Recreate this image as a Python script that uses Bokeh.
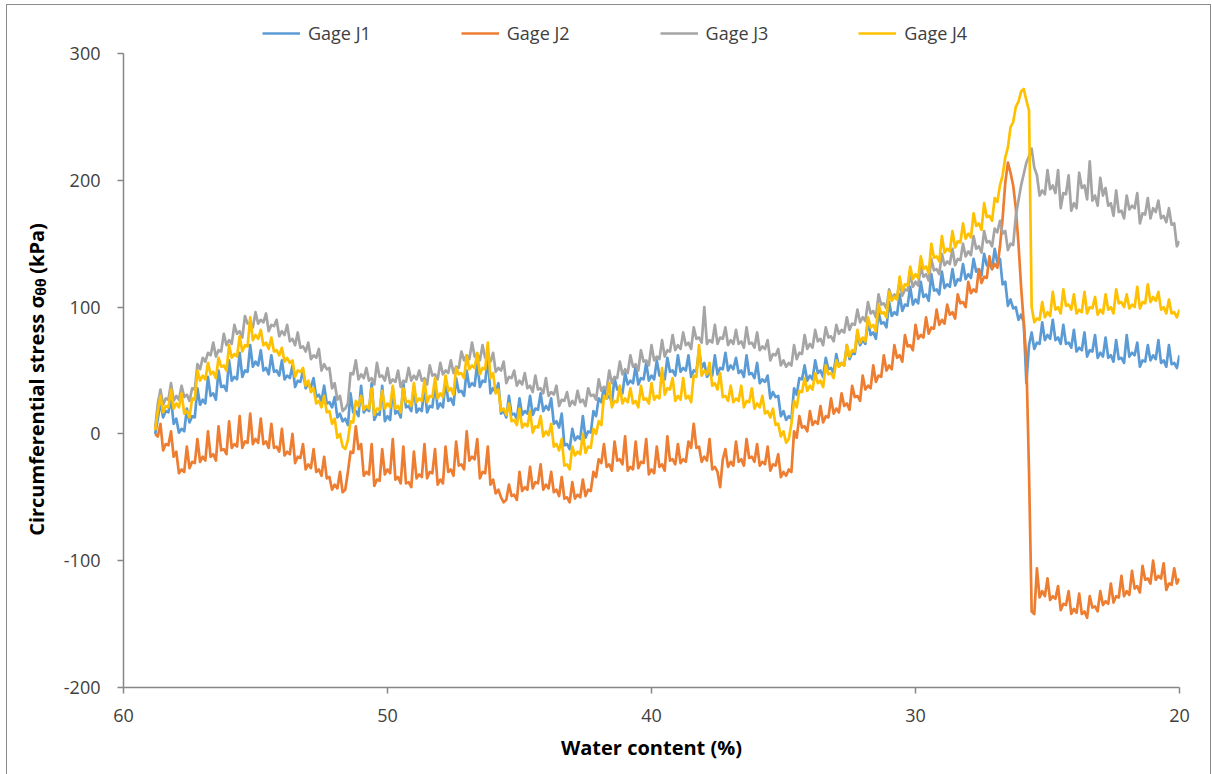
import math
from bokeh.plotting import figure
from bokeh.layouts import row
from bokeh.models import Range1d, Legend, LegendItem, Label, FixedTicker
from bokeh.embed import file_html
from bokeh.resources import INLINE

# ---------------- data ----------------
# samples every 0.2 % of water content ...
water = [
    58.8, 58.6, 58.4, 58.2, 58.0, 57.8, 57.6, 57.4, 57.2, 57.0,
    56.8, 56.6, 56.4, 56.2, 56.0, 55.8, 55.6, 55.4, 55.2, 55.0,
    54.8, 54.6, 54.4, 54.2, 54.0, 53.8, 53.6, 53.4, 53.2, 53.0,
    52.8, 52.6, 52.4, 52.2, 52.0, 51.8, 51.6, 51.4, 51.2, 51.0,
    50.8, 50.6, 50.4, 50.2, 50.0, 49.8, 49.6, 49.4, 49.2, 49.0,
    48.8, 48.6, 48.4, 48.2, 48.0, 47.8, 47.6, 47.4, 47.2, 47.0,
    46.8, 46.6, 46.4, 46.2, 46.0, 45.8, 45.6, 45.4, 45.2, 45.0,
    44.8, 44.6, 44.4, 44.2, 44.0, 43.8, 43.6, 43.4, 43.2, 43.0,
    42.8, 42.6, 42.4, 42.2, 42.0, 41.8, 41.6, 41.4, 41.2, 41.0,
    40.8, 40.6, 40.4, 40.2, 40.0, 39.8, 39.6, 39.4, 39.2, 39.0,
    38.8, 38.6, 38.4, 38.2, 38.0, 37.8, 37.6, 37.4, 37.2, 37.0,
    36.8, 36.6, 36.4, 36.2, 36.0, 35.8, 35.6, 35.4, 35.2, 35.0,
    34.8, 34.6, 34.4, 34.2, 34.0, 33.8, 33.6, 33.4, 33.2, 33.0,
    32.8, 32.6, 32.4, 32.2, 32.0, 31.8, 31.6, 31.4, 31.2, 31.0,
    30.8, 30.6, 30.4, 30.2, 30.0, 29.8, 29.6, 29.4, 29.2, 29.0,
    28.8, 28.6, 28.4, 28.2, 28.0, 27.8, 27.6, 27.4, 27.2, 27.0,
    26.8, 26.6, 26.4, 26.2, 26.0, 25.8, 25.6, 25.4, 25.2, 25.0,
    24.8, 24.6, 24.4, 24.2, 24.0, 23.8, 23.6, 23.4, 23.2, 23.0,
    22.8, 22.6, 22.4, 22.2, 22.0, 21.8, 21.6, 21.4, 21.2, 21.0,
    20.8, 20.6, 20.4, 20.2, 20.0,
]
# ... and the in-between samples (noise troughs)
water_mid = [
    58.7, 58.5, 58.3, 58.1, 57.9, 57.7, 57.5, 57.3, 57.1, 56.9,
    56.7, 56.5, 56.3, 56.1, 55.9, 55.7, 55.5, 55.3, 55.1, 54.9,
    54.7, 54.5, 54.3, 54.1, 53.9, 53.7, 53.5, 53.3, 53.1, 52.9,
    52.7, 52.5, 52.3, 52.1, 51.9, 51.7, 51.5, 51.3, 51.1, 50.9,
    50.7, 50.5, 50.3, 50.1, 49.9, 49.7, 49.5, 49.3, 49.1, 48.9,
    48.7, 48.5, 48.3, 48.1, 47.9, 47.7, 47.5, 47.3, 47.1, 46.9,
    46.7, 46.5, 46.3, 46.1, 45.9, 45.7, 45.5, 45.3, 45.1, 44.9,
    44.7, 44.5, 44.3, 44.1, 43.9, 43.7, 43.5, 43.3, 43.1, 42.9,
    42.7, 42.5, 42.3, 42.1, 41.9, 41.7, 41.5, 41.3, 41.1, 40.9,
    40.7, 40.5, 40.3, 40.1, 39.9, 39.7, 39.5, 39.3, 39.1, 38.9,
    38.7, 38.5, 38.3, 38.1, 37.9, 37.7, 37.5, 37.3, 37.1, 36.9,
    36.7, 36.5, 36.3, 36.1, 35.9, 35.7, 35.5, 35.3, 35.1, 34.9,
    34.7, 34.5, 34.3, 34.1, 33.9, 33.7, 33.5, 33.3, 33.1, 32.9,
    32.7, 32.5, 32.3, 32.1, 31.9, 31.7, 31.5, 31.3, 31.1, 30.9,
    30.7, 30.5, 30.3, 30.1, 29.9, 29.7, 29.5, 29.3, 29.1, 28.9,
    28.7, 28.5, 28.3, 28.1, 27.9, 27.7, 27.5, 27.3, 27.1, 26.9,
    26.7, 26.5, 26.3, 26.1, 25.9, 25.7, 25.5, 25.3, 25.1, 24.9,
    24.7, 24.5, 24.3, 24.1, 23.9, 23.7, 23.5, 23.3, 23.1, 22.9,
    22.7, 22.5, 22.3, 22.1, 21.9, 21.7, 21.5, 21.3, 21.1, 20.9,
    20.7, 20.5, 20.3, 20.1,
]

gage_j1 = [
    0, 26, 18, 28, 12, 4, 20, 14, 36, 27,
    45, 32, 50, 38, 58, 45, 64, 50, 70, 57,
    66, 52, 62, 50, 58, 46, 54, 42, 50, 40,
    44, 31, 38, 25, 29, 16, 12, 32, 18, 38,
    20, 40, 16, 38, 14, 36, 18, 40, 22, 38,
    20, 38, 22, 40, 24, 42, 28, 44, 34, 50,
    40, 56, 42, 60, 36, 40, 18, 30, 16, 28,
    18, 30, 20, 32, 22, 28, 10, 16, -8, 4,
    -2, 14, 2, 18, 28, 37, 30, 44, 36, 48,
    42, 54, 44, 56, 46, 58, 48, 60, 50, 62,
    52, 62, 50, 66, 56, 48, 62, 52, 64, 54,
    60, 50, 62, 48, 56, 43, 46, 33, 30, 18,
    14, 36, 44, 54, 46, 58, 50, 60, 52, 63,
    56, 70, 64, 80, 74, 90, 80, 96, 88, 104,
    96, 110, 102, 116, 106, 120, 110, 126, 114, 128,
    118, 130, 122, 134, 126, 138, 130, 142, 134, 146,
    138, 120, 106, 100, 94, 40, 80, 72, 88, 78,
    90, 76, 86, 72, 82, 68, 80, 66, 78, 64,
    76, 62, 74, 60, 78, 64, 72, 58, 70, 62,
    74, 58, 70, 56, 62,
]
gage_j1_mid = [
    12, 13, 17, 8, 1, 2, 9, 13, 23, 24,
    30, 27, 37, 34, 42, 43, 45, 49, 53, 54,
    50, 47, 49, 46, 43, 44, 37, 41, 36, 37,
    29, 26, 24, 21, 13, 10, 7, 17, 14, 17,
    18, 11, 15, 10, 11, 16, 13, 21, 18, 17,
    18, 17, 21, 20, 21, 26, 23, 33, 30, 37,
    38, 37, 41, 32, 33, 16, 13, 15, 12, 15,
    16, 15, 19, 18, 19, 8, 5, -9, -12, -5,
    -4, -3, 1, 14, 25, 28, 25, 35, 32, 39,
    40, 39, 43, 42, 43, 46, 43, 49, 46, 49,
    50, 45, 49, 52, 45, 46, 47, 51, 50, 51,
    48, 45, 47, 44, 40, 41, 28, 29, 14, 11,
    12, 31, 43, 42, 43, 48, 45, 51, 48, 53,
    54, 59, 63, 70, 71, 78, 75, 87, 84, 93,
    94, 97, 101, 102, 103, 108, 105, 113, 110, 115,
    116, 117, 121, 122, 123, 128, 125, 133, 130, 135,
    118, 101, 99, 90, 88, 70, 67, 71, 74, 75,
    74, 71, 71, 68, 65, 66, 61, 65, 60, 61,
    60, 57, 59, 56, 61, 62, 53, 57, 58, 59,
    56, 53, 55, 52,
]

gage_j2 = [
    0, 8, -8, 2, -14, -28, -10, -22, -4, -18,
    2, -16, 6, -12, 10, -8, 14, -6, 16, -4,
    12, -6, 8, -10, 4, -14, 0, -18, -8, -24,
    -12, -28, -18, -34, -40, -30, -44, -14, 6, -8,
    -30, -8, -36, -12, -28, -4, -34, -10, -38, -14,
    -32, -8, -30, -12, -36, -10, -28, -6, -24, 2,
    -18, -4, -30, -10, -36, -44, -54, -40, -48, -30,
    -42, -26, -38, -24, -40, -30, -44, -34, -50, -38,
    -48, -36, -44, -30, -20, -8, -24, -6, -20, -2,
    -26, -6, -22, -4, -28, -10, -24, -2, -20, -8,
    -20, -6, 8, -10, -18, -4, -26, -42, -12, -22,
    -6, -20, -4, -18, -8, -22, -10, -24, -16, -30,
    -28, 2, 14, 6, 18, 10, 22, 14, 28, 20,
    32, 24, 38, 30, 46, 38, 54, 46, 62, 54,
    70, 62, 78, 70, 86, 78, 92, 84, 98, 90,
    102, 96, 110, 104, 120, 114, 130, 124, 140, 134,
    148, 198, 206, 178, 116, 58, -140, -106, -124, -114,
    -128, -120, -134, -124, -138, -126, -140, -128, -136, -124,
    -132, -118, -128, -112, -124, -108, -120, -104, -114, -100,
    -112, -102, -118, -106, -114,
]
gage_j2_mid = [
    -2, -13, -9, -18, -31, -30, -27, -23, -22, -21,
    -18, -21, -13, -16, -11, -10, -11, -7, -8, -7,
    -8, -11, -11, -14, -17, -16, -23, -19, -28, -27,
    -30, -33, -35, -44, -43, -46, -30, -15, -12, -33,
    -32, -41, -37, -32, -31, -36, -39, -39, -42, -35,
    -34, -35, -31, -40, -39, -30, -33, -25, -28, -21,
    -20, -35, -31, -40, -47, -50, -52, -49, -52, -45,
    -44, -43, -39, -44, -43, -46, -49, -51, -54, -51,
    -50, -49, -45, -34, -23, -26, -29, -21, -24, -29,
    -28, -27, -23, -32, -31, -26, -29, -21, -24, -23,
    -22, -11, -11, -22, -21, -28, -30, -20, -26, -25,
    -22, -25, -19, -22, -25, -24, -29, -25, -34, -33,
    -30, -3, 5, 2, 7, 8, 9, 13, 16, 17,
    22, 19, 29, 26, 35, 36, 41, 45, 50, 51,
    60, 57, 69, 66, 75, 76, 79, 83, 86, 87,
    94, 91, 103, 100, 111, 112, 119, 123, 130, 131,
    170, 214, 196, 150, 88, -30, -142, -129, -128, -131,
    -130, -139, -135, -142, -141, -142, -145, -137, -140, -135,
    -134, -133, -129, -128, -127, -122, -125, -115, -118, -115,
    -114, -123, -119, -118,
]

gage_j3 = [
    5, 35, 28, 40, 30, 38, 31, 36, 55, 60,
    64, 72, 66, 79, 74, 86, 81, 93, 88, 96,
    90, 95, 86, 90, 81, 86, 75, 80, 69, 72,
    62, 67, 55, 52, 40, 30, 20, 48, 58, 47,
    52, 44, 56, 46, 52, 43, 50, 42, 52, 46,
    50, 44, 54, 47, 56, 50, 58, 53, 65, 62,
    72, 63, 70, 61, 64, 52, 57, 45, 50, 42,
    48, 38, 46, 36, 44, 33, 38, 27, 33, 26,
    34, 27, 36, 31, 43, 37, 50, 45, 57, 51,
    62, 55, 66, 58, 70, 61, 74, 66, 78, 70,
    80, 72, 84, 76, 100, 74, 86, 76, 84, 74,
    82, 73, 84, 72, 80, 69, 74, 63, 67, 58,
    56, 70, 64, 78, 71, 82, 75, 84, 77, 86,
    82, 92, 87, 98, 92, 104, 97, 110, 103, 114,
    110, 120, 114, 126, 120, 132, 126, 138, 130, 142,
    136, 146, 138, 150, 144, 156, 148, 160, 152, 162,
    168, 160, 150, 172, 196, 214, 225, 204, 192, 208,
    196, 208, 190, 204, 182, 206, 196, 215, 188, 202,
    194, 182, 192, 176, 188, 180, 190, 174, 186, 178,
    184, 172, 178, 166, 152,
]
gage_j3_mid = [
    24, 23, 27, 26, 27, 29, 26, 35, 51, 57,
    62, 61, 65, 70, 71, 79, 76, 87, 84, 87,
    88, 81, 85, 77, 78, 73, 70, 68, 65, 59,
    60, 50, 51, 36, 27, 18, 24, 47, 43, 44,
    42, 39, 45, 42, 40, 41, 37, 41, 42, 43,
    42, 39, 46, 43, 47, 48, 48, 52, 58, 59,
    61, 58, 60, 57, 49, 50, 40, 44, 38, 39,
    36, 33, 35, 32, 30, 31, 22, 26, 22, 23,
    25, 22, 30, 27, 34, 35, 40, 44, 47, 48,
    53, 50, 57, 54, 58, 59, 61, 65, 66, 67,
    70, 67, 75, 72, 71, 72, 71, 75, 70, 71,
    71, 68, 71, 68, 66, 67, 58, 62, 54, 53,
    54, 59, 63, 67, 68, 73, 70, 76, 73, 79,
    80, 82, 86, 88, 89, 95, 92, 102, 99, 107,
    108, 109, 113, 116, 117, 124, 121, 129, 126, 133,
    134, 133, 137, 140, 141, 146, 143, 151, 148, 159,
    158, 145, 149, 184, 205, 219, 210, 188, 189, 193,
    190, 178, 189, 176, 178, 194, 185, 184, 180, 188,
    180, 172, 175, 170, 177, 178, 166, 173, 170, 175,
    170, 167, 165, 148,
]

gage_j4 = [
    3, 30, 22, 35, 24, 32, 18, 28, 50, 46,
    56, 49, 60, 54, 70, 63, 77, 70, 92, 78,
    82, 72, 76, 66, 68, 60, 58, 50, 52, 42,
    36, 26, 30, 18, 12, 0, -12, 10, 26, 30,
    22, 36, 20, 34, 24, 38, 22, 36, 26, 40,
    28, 42, 30, 44, 32, 46, 36, 52, 48, 62,
    54, 64, 52, 72, 48, 35, 20, 24, 11, 20,
    8, 18, 6, 14, 2, 8, -8, -4, -24, -10,
    -14, 0, -10, 4, 10, 30, 40, 26, 38, 28,
    36, 26, 38, 28, 40, 30, 52, 36, 44, 30,
    44, 30, 46, 70, 50, 56, 40, 48, 30, 38,
    28, 38, 26, 36, 24, 30, 18, 20, 8, 2,
    -4, 26, 34, 44, 38, 48, 42, 54, 48, 58,
    56, 70, 66, 82, 76, 92, 86, 102, 96, 112,
    108, 124, 118, 132, 126, 140, 132, 150, 140, 156,
    146, 160, 152, 166, 158, 174, 166, 182, 172, 186,
    196, 218, 242, 258, 270, 263, 100, 91, 104, 96,
    112, 100, 114, 102, 110, 98, 112, 100, 108, 98,
    110, 100, 114, 104, 110, 102, 116, 104, 118, 108,
    112, 100, 106, 96, 98,
]
gage_j4_mid = [
    18, 17, 21, 20, 21, 16, 13, 27, 42, 43,
    47, 44, 53, 50, 60, 61, 65, 69, 74, 75,
    70, 67, 65, 62, 57, 56, 45, 49, 38, 33,
    24, 21, 17, 8, -3, -10, -5, 9, 22, 19,
    20, 15, 19, 20, 21, 20, 17, 25, 22, 25,
    26, 25, 29, 28, 29, 34, 31, 47, 44, 51,
    52, 47, 51, 44, 32, 18, 15, 10, 7, 5,
    6, 1, 5, -2, -1, -10, -13, -25, -28, -17,
    -16, -15, -11, 0, 7, 28, 21, 25, 24, 25,
    24, 21, 27, 24, 27, 28, 31, 35, 26, 27,
    28, 25, 45, 46, 47, 38, 35, 29, 26, 25,
    26, 21, 25, 20, 21, 16, 13, 7, -2, -7,
    8, 21, 33, 34, 35, 40, 37, 47, 44, 53,
    54, 61, 65, 72, 73, 84, 81, 95, 92, 105,
    106, 113, 117, 122, 123, 130, 127, 139, 136, 143,
    144, 147, 151, 154, 155, 164, 161, 171, 168, 183,
    204, 226, 246, 262, 272, 255, 88, 90, 92, 93,
    98, 95, 101, 98, 95, 96, 95, 99, 94, 95,
    98, 95, 103, 100, 99, 100, 99, 103, 104, 105,
    98, 95, 95, 92,
]

series_names = ["Gage J1", "Gage J2", "Gage J3", "Gage J4"]
series_colors = ["#5B9BD5", "#ED7D31", "#A5A5A5", "#FFC000"]
x_ticks = [60, 50, 40, 30, 20]
y_ticks = [-200, -100, 0, 100, 200, 300]
y_title_parts = ["Circumferential stress σ", "θθ", "(kPa)"]
x_title = "Water content (%)"


def interleave(main, mid):
    out = []
    for i, v in enumerate(main):
        out.append(v)
        if i < len(mid):
            out.append(mid[i])
    return out


xs = interleave(water, water_mid)
series = [
    interleave(gage_j1, gage_j1_mid),
    interleave(gage_j2, gage_j2_mid),
    interleave(gage_j3, gage_j3_mid),
    interleave(gage_j4, gage_j4_mid),
]

FONT = "Open Sans"
H = 769
Y_LO, Y_HI = -200, 330   # frame reaches above 300 to hold the legend

# ---------------- y-axis title panel ----------------
tp = figure(width=50, height=H, x_range=Range1d(0, 50), y_range=Range1d(Y_LO, Y_HI),
            output_backend="svg", toolbar_location=None,
            x_axis_type=None, y_axis_type=None,
            min_border=0, min_border_left=0, min_border_right=0,
            min_border_top=10, min_border_bottom=87)
tp.outline_line_color = None
tp.background_fill_color = "white"
tp.border_fill_color = "white"

common = dict(angle=math.pi / 2, text_align="left", text_baseline="alphabetic",
              text_font=FONT, text_font_style="bold", text_color="#000000")
tp.add_layout(Label(x=29, y=-80.4, text=y_title_parts[0], text_font_size="20px", **common))
tp.add_layout(Label(x=33, y=109.0, text=y_title_parts[1], text_font_size="14px", **common))
tp.add_layout(Label(x=29, y=126.3, text=y_title_parts[2], text_font_size="20px", **common))

# ---------------- main figure ----------------
p = figure(
    width=1153, height=H,
    x_range=Range1d(60, 20), y_range=Range1d(Y_LO, Y_HI),
    output_backend="svg", toolbar_location=None,
    min_border_left=66, min_border_right=31,
    min_border_top=10, min_border_bottom=87,
)
p.background_fill_color = "white"
p.border_fill_color = "white"
p.outline_line_color = None
p.xgrid.visible = False
p.ygrid.visible = False

for ax in (p.xaxis[0], p.yaxis[0]):
    ax.axis_line_color = "#868686"
    ax.axis_line_width = 1.5
    ax.major_tick_line_color = "#868686"
    ax.major_tick_line_width = 1.5
    ax.major_tick_out = 6
    ax.major_tick_in = 0
    ax.minor_tick_line_color = None
    ax.major_label_text_font = FONT
    ax.major_label_text_font_size = "18px"
    ax.major_label_text_color = "#404040"

p.xaxis.ticker = FixedTicker(ticks=x_ticks)
p.yaxis.ticker = FixedTicker(ticks=y_ticks)
p.yaxis.bounds = (y_ticks[0], y_ticks[-1])
p.yaxis.major_label_overrides = {t: str(t) for t in y_ticks}
p.xaxis.major_label_standoff = 15
p.yaxis.major_label_standoff = 17

p.xaxis.axis_label = x_title
p.xaxis.axis_label_text_font = FONT
p.xaxis.axis_label_text_font_style = "bold"
p.xaxis.axis_label_text_font_size = "20px"
p.xaxis.axis_label_text_color = "#000000"
p.xaxis.axis_label_standoff = 9
p.yaxis.axis_label = None

renderers = []
for ys, col in zip(series, series_colors):
    r = p.line(xs, ys, line_color=col, line_width=2.7, line_join="round")
    renderers.append(r)

legend = Legend(
    items=[LegendItem(label=n, renderers=[r]) for n, r in zip(series_names, renderers)],
    orientation="horizontal",
    location=(139, 642),
    glyph_width=38, glyph_height=20,
    label_standoff=8, spacing=90,
    padding=0, margin=0,
    border_line_color=None, background_fill_alpha=0,
    label_text_font=FONT, label_text_font_size="18px",
    label_text_color="#404040",
)
p.add_layout(legend)

layout = row(tp, p)
layout.margin = (5, 0, 0, 7)
layout.styles = {"outline": "1px solid #8c8c8c"}

open("out.html", "w").write(file_html(layout, INLINE))
